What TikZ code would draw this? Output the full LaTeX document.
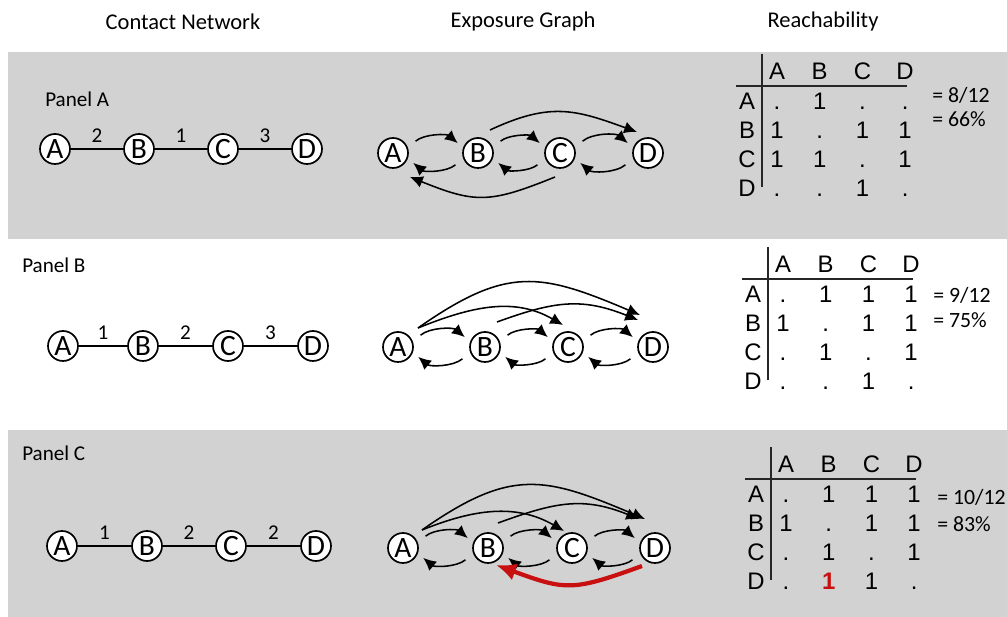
\documentclass[tikz,border=0pt]{standalone}
\usepackage{fontspec}
\setmainfont{Carlito}
\newfontfamily\tabfont{Liberation Sans}
\usepackage{tikz}
\usetikzlibrary{calc}
\usetikzlibrary{arrows.meta}

\definecolor{panelgray}{RGB}{210,210,210}
\definecolor{darkred}{RGB}{200,16,16}

\tikzset{
  vert/.style={draw, circle, fill=white, line width=1.2pt, minimum size=7.5mm, inner sep=0pt, font=\fontsize{21}{21}\selectfont},
  link/.style={line width=1.2pt},
  wlabel/.style={font=\fontsize{15}{15}\selectfont, inner sep=0pt},
  expo/.style={->, line width=1.1pt},
  short/.style={expo, bend left=40, shorten <=2.5mm, shorten >=1.75mm},
  redarc/.style={-{Latex[length=5mm,width=4.4mm]}, line width=3pt, draw=darkred},
  tabline/.style={line width=1.1pt, black!85},
  tab/.style={font=\tabfont\fontsize{17}{17}\selectfont, anchor=base, inner sep=0pt},
  ratio/.style={font=\fontsize{15.5}{15.5}\selectfont, anchor=base west, inner sep=0pt},
  coltitle/.style={font=\fontsize{16}{16}\selectfont},
  panel/.style={font=\fontsize{15}{15}\selectfont, anchor=west, inner sep=0pt}
}

% reachability table: #1 name prefix, #2 rows
\newcommand{\reachtable}[2]{%
  \draw[tabline] (762,-54) -- (762,-187);
  \draw[tabline] (736,-86) -- (907,-86);
  \foreach \c [count=\j] in {A,B,C,D} {
    \node[tab] (#1h\j) at ({777+42.7*(\j-1)},-80) {\c};
    \node[tab] (#1r\j) at (747,{-110-28.7*(\j-1)}) {\c};
  }
  \foreach \row [count=\i] in {#2}
    \foreach \v [count=\j] in \row
      \node[tab] (#1e\i\j) at ({777+42.7*(\j-1)},{-110-28.7*(\i-1)}) {\v};
}

\begin{document}
\begin{tikzpicture}[x=0.25mm, y=0.25mm]
  \begin{scope}[>={Latex[length=3.2mm,width=3mm]}] % filled arrow tips

    % background bands
    \useasboundingbox (0,0) rectangle (1007,-617);
    \fill[white] (0,0) rectangle (1007,-617);
    \fill[panelgray] (8,-52) rectangle (1007,-239);
    \fill[panelgray] (8,-430) rectangle (1007,-617);

    % column titles
    \node[coltitle] (tcontact) at (183,-22) {Contact Network};
    \node[coltitle] (texpo) at (523,-22) {Exposure Graph};
    \node[coltitle] (treach) at (823,-22) {Reachability};

    % ---------- Panel A ----------
    \node[panel] (pa) at (45,-99) {Panel A};
    \node[vert] (A1) at (55,-149) {A};
    \node[vert] (B1) at (139,-149) {B};
    \node[vert] (C1) at (223,-149) {C};
    \node[vert] (D1) at (307,-149) {D};
    \draw[link] (A1) -- node[wlabel, above=1.5mm] {2} (B1);
    \draw[link] (B1) -- node[wlabel, above=1.5mm] {1} (C1);
    \draw[link] (C1) -- node[wlabel, above=1.5mm] {3} (D1);

    \node[vert] (eA1) at (393,-153) {A};
    \node[vert] (eB1) at (478,-153) {B};
    \node[vert] (eC1) at (560,-153) {C};
    \node[vert] (eD1) at (648,-153) {D};
    \draw[short] (eA1.20) to (eB1.160);
    \draw[short] (eB1.200) to (eA1.340);
    \draw[short] (eB1.20) to (eC1.160);
    \draw[short] (eC1.200) to (eB1.340);
    \draw[short] (eC1.20) to (eD1.160);
    \draw[short] (eD1.200) to (eC1.340);
    \draw[expo] ($(eB1)+(12,23)$) to[out=25,in=160,looseness=1.15] ($(eD1)+(-11,21)$);
    \draw[expo] ($(eC1)+(-5,-24)$) to[out=202,in=-22,looseness=1.25] ($(eA1)+(17,-24)$);

    \reachtable{a}{{.,1,.,.},{1,.,1,1},{1,1,.,1},{.,.,1,.}}
    \node[ratio] (ra1) at (932,-103) {= 8/12};
    \node[ratio] (ra2) at (932,-127) {= 66\%};

    % ---------- Panel B ----------
    \node[panel] (pb) at (22,-265) {Panel B};
    \node[vert] (A2) at (63,-346) {A};
    \node[vert] (B2) at (143,-346) {B};
    \node[vert] (C2) at (228,-346) {C};
    \node[vert] (D2) at (313,-346) {D};
    \draw[link] (A2) -- node[wlabel, above=1.5mm] {1} (B2);
    \draw[link] (B2) -- node[wlabel, above=1.5mm] {2} (C2);
    \draw[link] (C2) -- node[wlabel, above=1.5mm] {3} (D2);

    \node[vert] (eA2) at (398,-347) {A};
    \node[vert] (eB2) at (485,-347) {B};
    \node[vert] (eC2) at (568,-347) {C};
    \node[vert] (eD2) at (653,-347) {D};
    \draw[short] (eA2.20) to (eB2.160);
    \draw[short] (eB2.200) to (eA2.340);
    \draw[short] (eB2.20) to (eC2.160);
    \draw[short] (eC2.200) to (eB2.340);
    \draw[short] (eC2.20) to (eD2.160);
    \draw[short] (eD2.200) to (eC2.340);
    \draw[expo] ($(eA2)+(20,19)$) to[out=35,in=157,looseness=1.25] ($(eD2)+(-13,32)$);
    \draw[expo] ($(eA2)+(20,19)$) to[out=22,in=150] ($(eC2)+(-5,22)$);
    \draw[expo] ($(eB2)+(12,25)$) to[out=20,in=158,looseness=1.1] ($(eD2)+(-15,27)$);

    \begin{scope}[shift={(6,-193)}]
      \reachtable{b}{{.,1,1,1},{1,.,1,1},{.,1,.,1},{.,.,1,.}}
    \end{scope}
    \node[ratio] (rb1) at (933,-303) {= 9/12};
    \node[ratio] (rb2) at (933,-328) {= 75\%};

    % ---------- Panel C ----------
    \node[panel] (pc) at (22,-453) {Panel C};
    \node[vert] (A3) at (62,-546) {A};
    \node[vert] (B3) at (147,-546) {B};
    \node[vert] (C3) at (231,-546) {C};
    \node[vert] (D3) at (316,-546) {D};
    \draw[link] (A3) -- node[wlabel, above=1.5mm] {1} (B3);
    \draw[link] (B3) -- node[wlabel, above=1.5mm] {2} (C3);
    \draw[link] (C3) -- node[wlabel, above=1.5mm] {2} (D3);

    \node[vert] (eA3) at (403,-548) {A};
    \node[vert] (eB3) at (488,-548) {B};
    \node[vert] (eC3) at (572,-548) {C};
    \node[vert] (eD3) at (655,-548) {D};
    \draw[short] (eA3.20) to (eB3.160);
    \draw[short] (eB3.200) to (eA3.340);
    \draw[short] (eB3.20) to (eC3.160);
    \draw[short] (eC3.200) to (eB3.340);
    \draw[short] (eC3.20) to (eD3.160);
    \draw[short] (eD3.200) to (eC3.340);
    \draw[expo] ($(eA3)+(19,18)$) to[out=35,in=157,looseness=1.25] ($(eD3)+(-10,29)$);
    \draw[expo] ($(eA3)+(19,18)$) to[out=22,in=150] ($(eC3)+(-8,17)$);
    \draw[expo] ($(eB3)+(10,25)$) to[out=20,in=158,looseness=1.1] ($(eD3)+(-16,29)$);
    \draw[redarc] ($(eD3)+(-13,-18)$) to[out=200,in=-20,looseness=1.3] ($(eB3)+(8,-17)$);

    \begin{scope}[shift={(9,-393)}]
      \reachtable{c}{{.,1,1,1},{1,.,1,1},{.,1,.,1},{.,\textbf{\textcolor{darkred}{1}},1,.}}
    \end{scope}
    \node[ratio] (rc1) at (937,-505) {= 10/12};
    \node[ratio] (rc2) at (937,-532) {= 83\%};

  \end{scope}
\end{tikzpicture}
\end{document}
